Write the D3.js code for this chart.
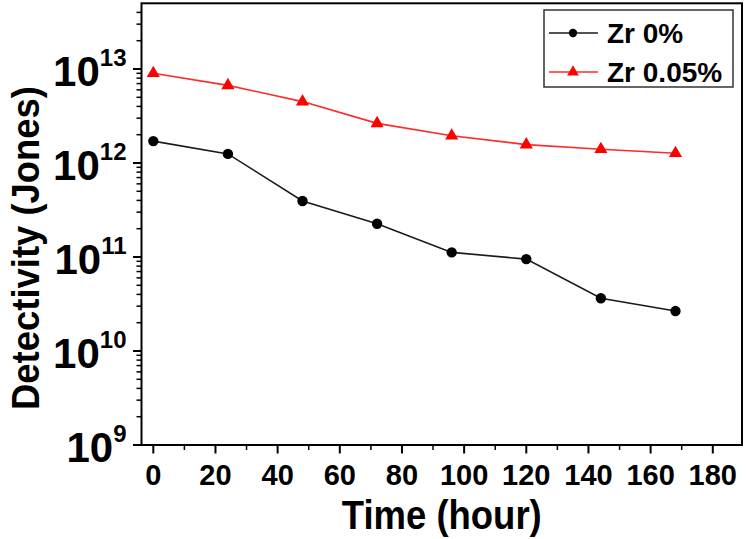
<!DOCTYPE html>
<html><head><meta charset="utf-8">
<script src="https://cdn.jsdelivr.net/npm/d3@7"></script>
<style>body{margin:0;background:#fff}svg{display:block}text{font-family:"Liberation Sans",Arial,sans-serif;font-weight:bold;fill:#000}</style>
</head><body>
<svg id="c" width="747" height="539"></svg>
<script>
const hours = [0, 24, 48, 72, 96, 120, 144, 168];
const zr0 = [1.71e12, 1.25e12, 3.94e11, 2.26e11, 1.12e11, 9.5e10, 3.64e10, 2.66e10];
const zr005 = [9.0e12, 6.7e12, 4.5e12, 2.64e12, 1.95e12, 1.57e12, 1.40e12, 1.27e12];
const seriesNames = ["Zr 0%", "Zr 0.05%"];
const xTicks = [0, 20, 40, 60, 80, 100, 120, 140, 160, 180];
const yExponents = [9, 10, 11, 12, 13];

const svg = d3.select("#c");
const x = d3.scaleLinear().domain([-3.8, 189.4]).range([141.5, 742]);
const y = d3.scaleLog().domain([1e9, 5e13]).range([445, 3.3]);

const L = x.range()[0], R = x.range()[1], B = y.range()[0], T = y.range()[1];

// minor ticks
const xMinor = d3.range(10, 190, 20);
svg.append("g").selectAll("line").data(xMinor).join("line")
  .attr("x1", d => x(d)).attr("x2", d => x(d)).attr("y1", B).attr("y2", B + 5)
  .attr("stroke", "#000").attr("stroke-width", 1.5);
svg.append("g").selectAll("line").data(xTicks).join("line")
  .attr("x1", d => x(d)).attr("x2", d => x(d)).attr("y1", B).attr("y2", B + 8.5)
  .attr("stroke", "#000").attr("stroke-width", 2);

const yMinor = [];
for (let e = 9; e <= 13; e++) for (let m = 2; m <= 9; m++) { const v = m * Math.pow(10, e); if (v < 5e13) yMinor.push(v); }
svg.append("g").selectAll("line").data(yMinor).join("line")
  .attr("x1", L - 5).attr("x2", L).attr("y1", d => y(d)).attr("y2", d => y(d))
  .attr("stroke", "#000").attr("stroke-width", 1.5);
svg.append("g").selectAll("line").data(yExponents).join("line")
  .attr("x1", L - 8.5).attr("x2", L).attr("y1", d => y(Math.pow(10, d))).attr("y2", d => y(Math.pow(10, d)))
  .attr("stroke", "#000").attr("stroke-width", 2);

// frame
svg.append("rect").attr("x", L).attr("y", T).attr("width", R - L).attr("height", B - T)
  .attr("fill", "none").attr("stroke", "#000").attr("stroke-width", 2);

// x labels
svg.append("g").selectAll("text").data(xTicks).join("text")
  .attr("x", d => x(d)).attr("y", 485).attr("text-anchor", "middle")
  .attr("font-size", 29).text(d => d);

// y labels
const yl = svg.append("g").selectAll("text").data(yExponents).join("text")
  .attr("x", 126.5).attr("y", d => y(Math.pow(10, d)) + 16.6).attr("text-anchor", "end")
  .attr("font-size", 42);
yl.append("tspan").text("10");
yl.append("tspan").attr("font-size", 24).attr("dy", -19.5).text(d => d);

// titles
svg.append("text").attr("x", (L + R) / 2).attr("y", 529).attr("text-anchor", "middle")
  .attr("font-size", 40).attr("textLength", 200).attr("lengthAdjust", "spacingAndGlyphs").text("Time (hour)");
svg.append("text").attr("transform", `translate(39,248) rotate(-90)`).attr("text-anchor", "middle")
  .attr("font-size", 39).attr("textLength", 324).attr("lengthAdjust", "spacingAndGlyphs").text("Detectivity (Jones)");

// series
const line = d3.line().x(d => x(d[0])).y(d => y(d[1]));
const d0 = hours.map((h, i) => [h, zr0[i]]);
const d1 = hours.map((h, i) => [h, zr005[i]]);
svg.append("path").datum(d0).attr("d", line).attr("fill", "none").attr("stroke", "#1a1a1a").attr("stroke-width", 1.6);
svg.append("path").datum(d1).attr("d", line).attr("fill", "none").attr("stroke", "#ff2a2a").attr("stroke-width", 1.6);
svg.append("g").selectAll("circle").data(d0).join("circle")
  .attr("cx", d => x(d[0])).attr("cy", d => y(d[1])).attr("r", 5.2).attr("fill", "#000");
const tri = d3.symbol().type(d3.symbolTriangle).size(75);
svg.append("g").selectAll("path").data(d1).join("path")
  .attr("transform", d => `translate(${x(d[0])},${y(d[1])})`).attr("d", tri).attr("fill", "#ff0000");

// legend
svg.append("rect").attr("x", 544).attr("y", 10).attr("width", 189).attr("height", 77)
  .attr("fill", "#fff").attr("stroke", "#333").attr("stroke-width", 1.5);
const leg = [{name: seriesNames[0], col: "#1a1a1a", ty: 33}, {name: seriesNames[1], col: "#ff2a2a", ty: 72}];
leg.forEach((g, i) => {
  svg.append("line").attr("x1", 549).attr("x2", 598).attr("y1", g.ty).attr("y2", g.ty).attr("stroke", g.col).attr("stroke-width", 1.6);
  if (i === 0) svg.append("circle").attr("cx", 573).attr("cy", g.ty).attr("r", 4.2).attr("fill", "#000");
  else svg.append("path").attr("transform", `translate(573,${g.ty})`).attr("d", d3.symbol().type(d3.symbolTriangle).size(60)).attr("fill", "#ff0000");
  svg.append("text").attr("x", 607).attr("y", g.ty + 10).attr("font-size", 28).text(g.name);
});
</script>
</body></html>
